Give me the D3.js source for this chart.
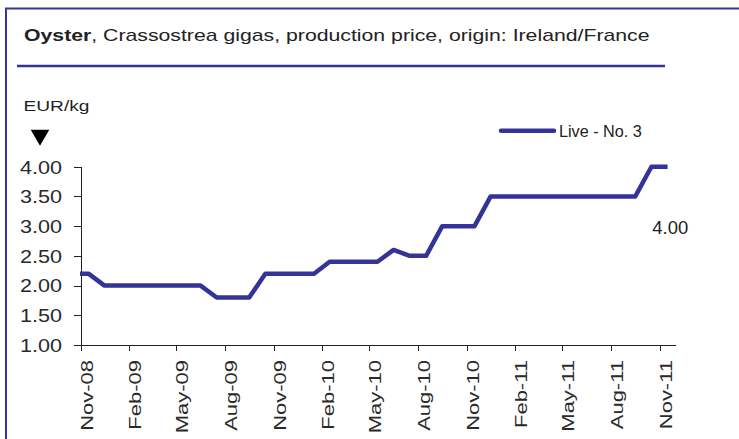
<!DOCTYPE html>
<html>
<head>
<meta charset="utf-8">
<script src="https://cdn.jsdelivr.net/npm/d3@7"></script>
<style>
body { margin: 0; background: #fff; }
text { font-family: "Liberation Sans", Arial, sans-serif; fill: #222; }
</style>
</head>
<body>
<script>
// data
var months = ['Oct-08', 'Nov-08', 'Dec-08',
	'Jan-09', 'Feb-09', 'Mar-09', 'Apr-09', 'May-09', 'Jun-09',
	'Jul-09', 'Aug-09', 'Sep-09', 'Oct-09', 'Nov-09', 'Dec-09',
	'Jan-10', 'Feb-10', 'Mar-10', 'Apr-10', 'May-10', 'Jun-10',
	'Jul-10', 'Aug-10', 'Sep-10', 'Oct-10', 'Nov-10', 'Dec-10',
	'Jan-11', 'Feb-11', 'Mar-11', 'Apr-11', 'May-11', 'Jun-11',
	'Jul-11', 'Aug-11', 'Sep-11', 'Oct-11', 'Nov-11'];
var prices = [2.2, 2.2, 2.0,
	2.0, 2.0, 2.0, 2.0, 2.0, 2.0,
	1.8, 1.8, 1.8, 2.2, 2.2, 2.2,
	2.2, 2.4, 2.4, 2.4, 2.4, 2.6,
	2.5, 2.5, 3.0, 3.0, 3.0, 3.5,
	3.5, 3.5, 3.5, 3.5, 3.5, 3.5,
	3.5, 3.5, 3.5, 4.0, 4.0];
var tickLabels = ['Nov-08', 'Feb-09', 'May-09', 'Aug-09', 'Nov-09', 'Feb-10', 'May-10',
	'Aug-10', 'Nov-10', 'Feb-11', 'May-11', 'Aug-11', 'Nov-11'];
var yTicks = [1.00, 1.50, 2.00, 2.50, 3.00, 3.50, 4.00];
var seriesName = 'Live - No. 3';
var lastValue = 4.00;

var parse = d3.timeParse('%b-%y');

// svg
var svg = d3.select('body').append('svg')
	.attr('width', 739)
	.attr('height', 439);

// stretch a text horizontally so that it spans w pixels
function fitText(t, w, tx, ty) {
	var bw = t.node().getBBox().width;
	t.attr('transform', 'translate(' + tx + ',' + ty + ') scale(' + (w / bw) + ',1)');
}

// frame
svg.append('path')
	.attr('d', 'M6,439V8.5H739')
	.style('fill', 'none')
	.style('stroke', '#333399')
	.style('stroke-width', 2);

svg.append('line')
	.attr('x1', 17).attr('x2', 665)
	.attr('y1', 66).attr('y2', 66)
	.style('stroke', '#333399')
	.style('stroke-width', 2.5);

// title
var title = svg.append('text')
	.style('font-size', '16px');
title.append('tspan').style('font-weight', 'bold').text('Oyster');
title.append('tspan').text(', Crassostrea gigas, production price, origin: Ireland/France');
fitText(title, 626, 24, 41);

// unit
var unit = svg.append('text')
	.style('font-size', '15px')
	.text('EUR/kg');
fitText(unit, 66, 23.5, 111);

svg.append('path')
	.attr('d', d3.symbol().type(d3.symbolTriangle).size(150)())
	.attr('transform', 'translate(40,135) rotate(180)')
	.style('fill', '#000');

// scales
var x = d3.scaleTime()
	.domain([parse('Nov-08'), parse('Dec-11')])
	.range([80.5, 675.5]);
var y = d3.scaleLinear()
	.domain([1, 4])
	.range([345, 166.7]);

function midMonth(s) {
	var d = parse(s);
	return (x(d) + x(d3.timeMonth.offset(d, 1))) / 2;
}

// axes
var gx = svg.append('g')
	.attr('transform', 'translate(0,345)')
	.call(d3.axisBottom(x)
		.tickValues(tickLabels.map(parse))
		.tickFormat(d3.timeFormat('%b-%y'))
		.tickSize(6)
		.tickSizeOuter(0));
gx.selectAll('text')
	.attr('x', 0).attr('y', 0).attr('dy', 0)
	.style('font-size', '16px')
	.attr('text-anchor', 'end');
var nat = gx.select('text').node().getBBox().width;
gx.selectAll('text').attr('transform', 'translate(11.5,15) rotate(-90) scale(' + (71 / nat) + ',1)');

var gy = svg.append('g')
	.attr('transform', 'translate(80.5,0)')
	.call(d3.axisLeft(y)
		.tickValues(yTicks)
		.tickFormat(d3.format('.2f'))
		.tickSize(7)
		.tickSizeOuter(0));
gy.selectAll('text')
	.attr('x', 0).attr('dy', '0.35em')
	.style('font-size', '18px')
	.attr('transform', 'translate(-18.5,0) scale(1.2,1)');

svg.selectAll('.domain, .tick line')
	.style('stroke', '#222')
	.style('shape-rendering', 'crispEdges');
svg.selectAll('.tick text').style('fill', '#2a2a2a');

// line
svg.append('clipPath')
	.attr('id', 'plot')
	.append('rect')
	.attr('x', 80).attr('y', 100)
	.attr('width', 596).attr('height', 260);

var line = d3.line()
	.x(function(d) { return midMonth(d.m); })
	.y(function(d) { return y(d.v); });

var series = months.map(function(m, i) { return {m: m, v: prices[i]}; });

svg.append('path')
	.datum(series)
	.attr('clip-path', 'url(#plot)')
	.attr('d', line)
	.style('fill', 'none')
	.style('stroke', '#333399')
	.style('stroke-width', 4.5)
	.style('stroke-linejoin', 'round');

// legend
svg.append('line')
	.attr('x1', 501).attr('x2', 554)
	.attr('y1', 130.7).attr('y2', 130.7)
	.style('stroke', '#333399')
	.style('stroke-width', 4.5)
	.style('stroke-linecap', 'round');
var leg = svg.append('text')
	.style('font-size', '16px')
	.text(seriesName);
fitText(leg, 83, 559, 136.5);

// last value label
var lbl = svg.append('text')
	.style('font-size', '18px')
	.text(d3.format('.2f')(lastValue));
fitText(lbl, 36, 652.3, 234.3);
</script>
</body>
</html>
